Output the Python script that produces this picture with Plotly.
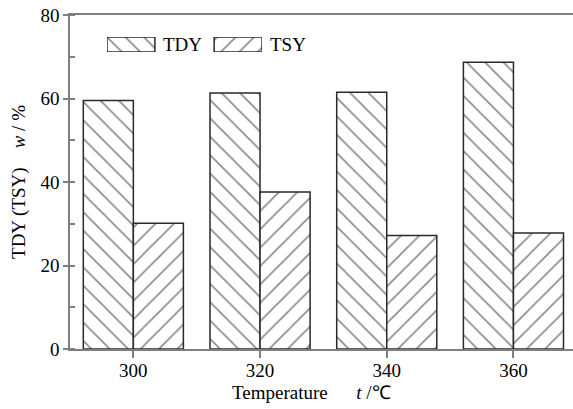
import plotly.graph_objects as go

categories = ["300", "320", "340", "360"]
tdy = [59.5, 61.3, 61.5, 68.7]
tsy = [30.1, 37.6, 27.2, 27.8]
series_names = ["TDY", "TSY"]

FONT = "'Liberation Serif', 'Times New Roman', Times, serif"
AX = "#7f7f7f"
EDGE = "#2a2a2a"
PAT = dict(size=13, solidity=0.12, fgcolor="#111111", bgcolor="white")

fig = go.Figure()
fig.add_trace(go.Bar(
    x=categories, y=tdy, name=series_names[0], showlegend=False,
    marker=dict(color="white", line=dict(color=EDGE, width=1.5),
                pattern=dict(shape="\\", **PAT)),
))
fig.add_trace(go.Bar(
    x=categories, y=tsy, name=series_names[1], showlegend=False,
    marker=dict(color="white", line=dict(color=EDGE, width=1.5),
                pattern=dict(shape="/", **PAT)),
))

# legend swatches drawn on a small inset axis
fig.add_trace(go.Bar(
    x=[0], y=[1], width=[0.447], xaxis="x2", yaxis="y2", showlegend=False, hoverinfo="skip",
    marker=dict(color="white", line=dict(color=EDGE, width=1.5), pattern=dict(shape="\\", **PAT)),
))
fig.add_trace(go.Bar(
    x=[1], y=[1], width=[0.447], xaxis="x2", yaxis="y2", showlegend=False, hoverinfo="skip",
    marker=dict(color="white", line=dict(color=EDGE, width=1.5), pattern=dict(shape="/", **PAT)),
))

fig.update_layout(
    width=573, height=409,
    margin=dict(l=70, r=0, t=15, b=60),
    paper_bgcolor="white", plot_bgcolor="white",
    barmode="group", bargap=0.21, bargroupgap=0,
    font=dict(family=FONT, size=19, color="black"),
    showlegend=False,
    xaxis=dict(
        type="category", range=[-0.5, 3.47],
        showline=True, linecolor=AX, linewidth=1.5, mirror=True,
        ticks="outside", ticklen=7, tickcolor=AX, tickwidth=1.5,
        ticklabelstandoff=-4,
        showgrid=False, zeroline=False,
        tickfont=dict(family=FONT, size=19),
    ),
    yaxis=dict(
        range=[0, 80], dtick=20, tick0=0,
        showline=True, linecolor=AX, linewidth=1.5, mirror=False,
        ticks="outside", ticklen=5, tickcolor=AX, tickwidth=1.5,
        minor=dict(dtick=10, ticks="inside", ticklen=5, tickcolor=AX, tickwidth=1.5, showgrid=False),
        showgrid=False, zeroline=False,
        tickfont=dict(family=FONT, size=19),
        title=dict(text="TDY (TSY)&nbsp;&nbsp;&nbsp;&nbsp;<i>w</i> / %", font=dict(family=FONT, size=19), standoff=10),
    ),
    xaxis2=dict(domain=[0.0736, 0.3817], range=[-0.223, 1.223], anchor="y2",
                visible=False, fixedrange=True),
    yaxis2=dict(domain=[0.889, 0.934], range=[0, 1], anchor="x2",
                visible=False, fixedrange=True),
    annotations=[
        dict(text=series_names[0], xref="paper", yref="paper", x=0.181, y=0.9115,
             xanchor="left", yanchor="middle", showarrow=False, font=dict(family=FONT, size=19)),
        dict(text=series_names[1], xref="paper", yref="paper", x=0.394, y=0.9115,
             xanchor="left", yanchor="middle", showarrow=False, font=dict(family=FONT, size=19)),
        dict(text="Temperature&nbsp;&nbsp;&nbsp;&nbsp;&nbsp;&nbsp;<i>t</i> /℃", xref="paper", yref="paper",
             x=0.481, y=-0.1317, xanchor="center", yanchor="middle", showarrow=False,
             font=dict(family=FONT, size=19)),
    ],
)

fig.write_html("out.html")
